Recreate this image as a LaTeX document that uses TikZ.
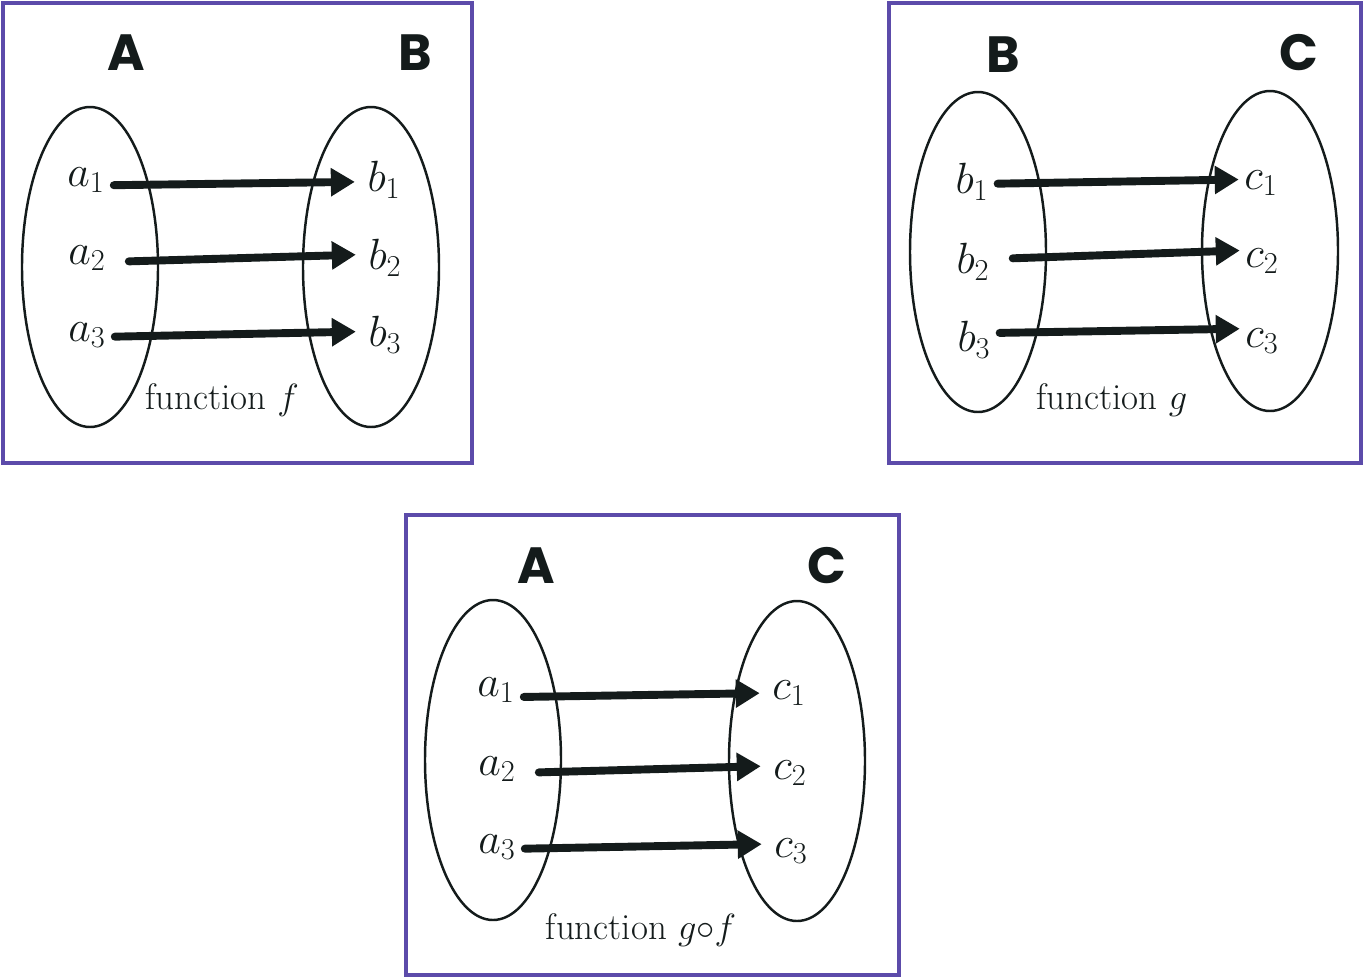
\documentclass[tikz,border=0pt]{standalone}
\usepackage{fontspec}
\newfontfamily\setfont{Poppins}
\usetikzlibrary{arrows.meta}
\definecolor{framepurple}{RGB}{92,75,170}
\definecolor{inkdark}{RGB}{20,27,27}

\begin{document}
\begin{tikzpicture}[
  x=0.02cm, y=-0.02cm,
  frame/.style={draw=framepurple, line width=2.3pt},
  set/.style={draw=inkdark, line width=1.4pt},
  setname/.style={font=\fontsize{29}{35}\setfont\bfseries, text=inkdark},
  elem/.style={font=\fontsize{24}{28}\selectfont, text=inkdark, inner sep=2pt},
  caption/.style={font=\fontsize{21}{25}\selectfont, text=inkdark},
  arr/.style={-{Triangle[length=0.48cm,width=0.54cm]}, line width=4.5pt, draw=inkdark, line cap=round, shorten <=3pt, shorten >=5pt}
]
\useasboundingbox (0,0) rectangle (1363,978);

\draw[frame] (3,3) rectangle (472,463);
\draw[set] (90,267) circle[x radius=68, y radius=160];
\draw[set] (371,267) circle[x radius=68, y radius=160];
\node[setname] (sA1) at (126,53) {A};
\node[setname] (sB1) at (415,53) {B};
\node[elem] (fa1) at (86,180) {$a_1$};
\node[elem] (fa2) at (87,258) {$a_2$};
\node[elem] (fa3) at (87,335) {$a_3$};
\node[elem] (fb1) at (384,180) {$b_1$};
\node[elem] (fb2) at (385,258) {$b_2$};
\node[elem] (fb3) at (385,335) {$b_3$};
\node[caption] (capf) at (222,400) {function $f$};
\draw[arr] ([yshift=-3pt]fa1.east) -- ([yshift=-1pt]fb1.west);
\draw[arr] ([xshift=8pt,yshift=-2pt]fa2.east) -- ([yshift=2pt]fb2.west);
\draw[arr] ([yshift=-1pt]fa3.east) -- ([yshift=2pt]fb3.west);

\draw[frame] (889,3) rectangle (1361,463);
\draw[set] (978,252) circle[x radius=68, y radius=160];
\draw[set] (1270,251) circle[x radius=68, y radius=160];
\node[setname] (sB2) at (1003,55) {B};
\node[setname] (sC2) at (1299,53) {C};
\node[elem] (gb1) at (972,182) {$b_1$};
\node[elem] (gb2) at (973,262) {$b_2$};
\node[elem] (gb3) at (974,340) {$b_3$};
\node[elem] (gc1) at (1261,183) {$c_1$};
\node[elem] (gc2) at (1262,261) {$c_2$};
\node[elem] (gc3) at (1262,341) {$c_3$};
\node[caption] (capg) at (1112,400) {function $g$};
\draw[arr, shorten >=1pt] ([yshift=-1pt]gb1.east) -- ([yshift=2pt]gc1.west);
\draw[arr, shorten >=1pt] ([xshift=8pt,yshift=2pt]gb2.east) -- ([yshift=6pt]gc2.west);
\draw[arr, shorten >=1pt] ([yshift=4pt]gb3.east) -- ([yshift=7pt]gc3.west);

\draw[frame] (406,515) rectangle (899,975);
\draw[set] (493,760) circle[x radius=68, y radius=160];
\draw[set] (797,761) circle[x radius=68, y radius=160];
\node[setname] (sA3) at (536,566) {A};
\node[setname] (sC3) at (827,566) {C};
\node[elem] (ha1) at (496,690) {$a_1$};
\node[elem] (ha2) at (497,769) {$a_2$};
\node[elem] (ha3) at (497,847) {$a_3$};
\node[elem] (hc1) at (789,693) {$c_1$};
\node[elem] (hc2) at (790,773) {$c_2$};
\node[elem] (hc3) at (791,851) {$c_3$};
\node[caption] (capgf) at (641,930) {function $g{\circ}f$};
\draw[arr] ([yshift=-4pt]ha1.east) -- ([yshift=0pt]hc1.west);
\draw[arr] ([xshift=8pt,yshift=-2pt]ha2.east) -- ([yshift=4pt]hc2.west);
\draw[arr] ([yshift=-1pt]ha3.east) -- ([yshift=4pt]hc3.west);
\end{tikzpicture}
\end{document}
